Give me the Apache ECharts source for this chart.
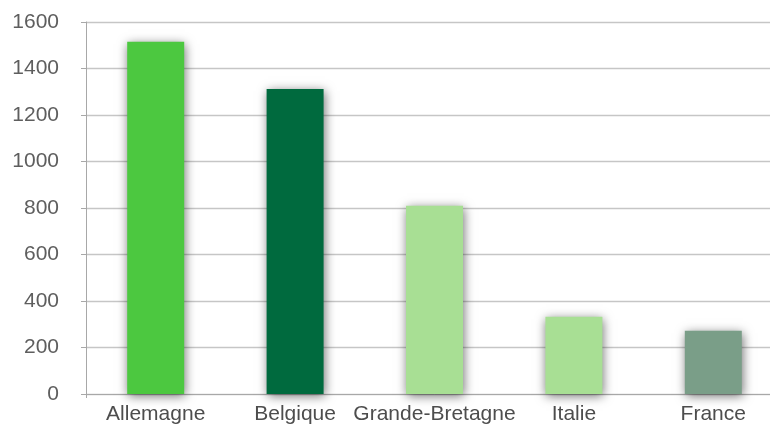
<!DOCTYPE html>
<html>
<head>
<meta charset="utf-8">
<script src="https://cdn.jsdelivr.net/npm/echarts@6/dist/echarts.min.js"></script>
<style>
html,body{margin:0;padding:0;background:#fff;overflow:hidden;width:770px;height:427px;}
#c{width:800px;height:427px;}
</style>
</head>
<body>
<div id="c"></div>
<script>
var categories = ['Allemagne', 'Belgique', 'Grande-Bretagne', 'Italie', 'France'];
var values = [1515, 1312, 810, 332, 272];
var barColors = ['#4cc840', '#006a3e', '#a8df94', '#a8df94', '#7a9e88'];
var yMin = 0, yMax = 1600, yStep = 200;

var chart = echarts.init(document.getElementById('c'));
chart.setOption({
  animation: false,
  grid: { left: 86, top: 22, width: 697, height: 372, containLabel: false },
  xAxis: {
    type: 'category',
    data: categories,
    axisLine: { lineStyle: { color: '#a8a8a8', width: 1 } },
    axisTick: { show: true, length: 4, interval: function (i) { return i === 0; }, lineStyle: { color: '#a8a8a8' } },
    axisLabel: { color: '#4d4d4d', fontSize: 21, fontFamily: 'Liberation Sans', margin: 10, interval: 0 }
  },
  yAxis: {
    type: 'value',
    min: yMin, max: yMax, interval: yStep,
    axisLine: { show: true, lineStyle: { color: '#a8a8a8', width: 1 } },
    axisTick: { show: true, length: 5, lineStyle: { color: '#a8a8a8' } },
    splitLine: { lineStyle: { color: '#c6c6c6', width: 1.4 } },
    axisLabel: { color: '#5e5e5e', fontSize: 21, fontFamily: 'Liberation Sans', margin: 27, formatter: function (v) { return String(v); } }
  },
  series: [{
    type: 'bar',
    barWidth: 57,
    data: values.map(function (v, i) {
      return {
        value: v,
        itemStyle: {
          color: barColors[i],
          shadowBlur: 10,
          shadowColor: 'rgba(0,0,0,0.55)',
          shadowOffsetX: 1,
          shadowOffsetY: 2
        }
      };
    })
  }]
});
</script>
</body>
</html>
